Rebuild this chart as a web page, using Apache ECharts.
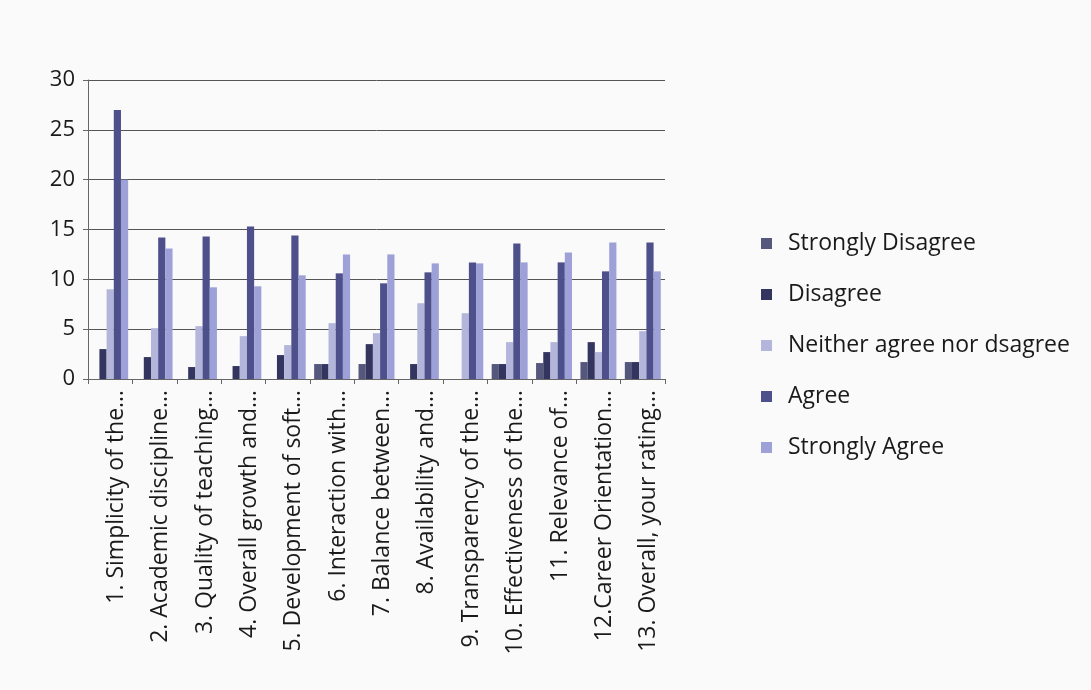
<!DOCTYPE html>
<html>
<head>
<meta charset="utf-8">
<script src="https://cdn.jsdelivr.net/npm/echarts@6/dist/echarts.min.js"></script>
<style>
html,body{margin:0;padding:0;background:#fafafa;}
#c{width:1091px;height:690px;}
</style>
</head>
<body>
<div id="c"></div>
<script>
const categories = [
  "1. Simplicity of the\u2026",
  "2. Academic discipline\u2026",
  "3. Quality of teaching\u2026",
  "4. Overall growth and\u2026",
  "5. Development of soft\u2026",
  "6. Interaction with\u2026",
  "7. Balance between\u2026",
  "8. Availability and\u2026",
  "9. Transparency of the\u2026",
  "10. Effectiveness of the\u2026",
  "11. Relevance of\u2026",
  "12.Career Orientation\u2026",
  "13. Overall, your rating\u2026"
];
const seriesNames = ["Strongly Disagree","Disagree","Neither agree nor dsagree","Agree","Strongly Agree"];
const stronglyDisagree = [0, 0, 0, 0, 0, 1.5, 1.5, 0, 0, 1.5, 1.6, 1.7, 1.7];
const disagree         = [3, 2.2, 1.2, 1.3, 2.4, 1.5, 3.5, 1.5, 0, 1.5, 2.7, 3.7, 1.7];
const neither          = [9, 5.1, 5.3, 4.3, 3.4, 5.6, 4.6, 7.6, 6.6, 3.7, 3.7, 2.7, 4.8];
const agree            = [27, 14.2, 14.3, 15.3, 14.4, 10.6, 9.6, 10.7, 11.7, 13.6, 11.7, 10.8, 13.7];
const stronglyAgree    = [20, 13.1, 9.2, 9.3, 10.4, 12.5, 12.5, 11.6, 11.6, 11.7, 12.7, 13.7, 10.8];
const yTicks = [0, 5, 10, 15, 20, 25, 30];

const values = [stronglyDisagree, disagree, neither, agree, stronglyAgree];
const colors = ["#55577c", "#33355f", "#b3b5da", "#4d508b", "#9da1d7"];
const font = "'Open Sans', Lato, sans-serif";

const chart = echarts.init(document.getElementById('c'));
chart.setOption({
  backgroundColor: '#fafafa',
  animation: false,
  textStyle: {fontFamily: font},
  grid: {left: 88, top: 80, width: 577, height: 299, containLabel: false},
  legend: {
    orient: 'vertical',
    left: 756,
    top: 226,
    itemWidth: 11,
    itemHeight: 11,
    itemGap: 26,
    icon: 'rect',
    textStyle: {fontFamily: font, fontSize: 23, color: '#1a1a1a', lineHeight: 25, padding: [0,0,0,11]},
    data: seriesNames
  },
  xAxis: {
    type: 'category',
    data: categories,
    axisLine: {show: true, lineStyle: {color: '#666', width: 1}},
    axisTick: {show: true, length: 5, lineStyle: {color: '#666'}},
    axisLabel: {rotate: 90, interval: 0, margin: 11, fontSize: 23, lineHeight: 12, verticalAlign: 'top', color: '#1a1a1a', fontFamily: font}
  },
  yAxis: {
    type: 'value',
    min: yTicks[0],
    max: yTicks[yTicks.length - 1],
    interval: yTicks[1] - yTicks[0],
    axisLine: {show: true, lineStyle: {color: '#666', width: 1}},
    axisTick: {show: true, length: 5, lineStyle: {color: '#666'}},
    axisLabel: {fontSize: 22, color: '#1a1a1a', margin: 13, fontFamily: font},
    splitLine: {show: true, lineStyle: {color: '#555', width: 1}}
  },
  series: seriesNames.map((n, i) => ({
    name: n,
    type: 'bar',
    data: values[i],
    barGap: '0%',
    barCategoryGap: '19%',
    itemStyle: {color: colors[i]}
  }))
});
</script>
</body>
</html>
